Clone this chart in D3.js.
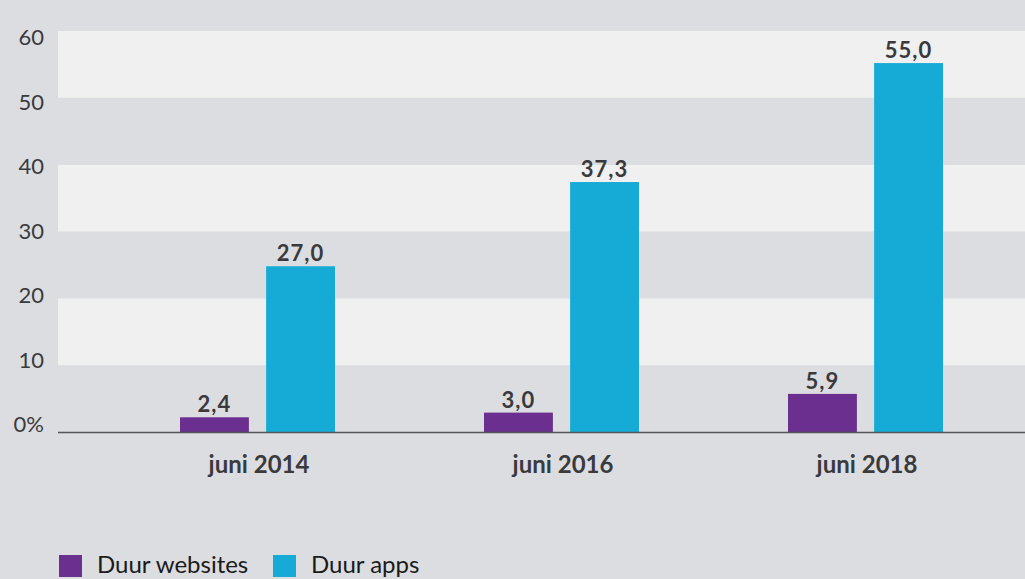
<!DOCTYPE html>
<html>
<head>
<meta charset="utf-8">
<script src="https://cdn.jsdelivr.net/npm/d3@7"></script>
<style>
  html, body { margin: 0; padding: 0; background: #dcdde0; }
  svg { display: block; }
</style>
</head>
<body>
<script>
// ---- data ----
const categories = ["juni 2014", "juni 2016", "juni 2018"];
const seriesNames = ["Duur websites", "Duur apps"];
const websitesLabels = ["2,4", "3,0", "5,9"];
const appsLabels = ["27,0", "37,3", "55,0"];
// bar heights as drawn in the picture
const websitesValues = [2.2, 2.9, 5.7];
const appsValues = [24.8, 37.4, 55.2];
const yTickValues = [0, 10, 20, 30, 40, 50, 60];
const yTickLabels = ["0%", "10", "20", "30", "40", "50", "60"];
const colors = ["#6a2f8f", "#16aad6"];

// ---- layout ----
const W = 1025, H = 579;
const svg = d3.select("body").append("svg").attr("width", W).attr("height", H);
svg.append("rect").attr("width", W).attr("height", H).attr("fill", "#dcdde0");

const plotLeft = 58, plotRight = 1025, plotTop = 31, plotBottom = 432;
const y = d3.scaleLinear().domain([0, 60]).range([plotBottom, plotTop]);
const yLabel = d3.scaleLinear().domain([0, 60]).range([424.5, 37]);
const x0 = d3.scaleBand().domain(categories).range([106, 1018]).paddingInner(0).paddingOuter(0);
const x1 = d3.scaleBand().domain(seriesNames).range([0, 155]).paddingInner(0.2);

// bands
const bandPairs = d3.pairs(yTickValues);
svg.append("g").selectAll("rect").data(bandPairs).join("rect")
  .attr("x", plotLeft).attr("width", plotRight - plotLeft)
  .attr("y", d => y(d[1])).attr("height", d => y(d[0]) - y(d[1]))
  .attr("fill", (d, i) => i % 2 === 1 ? "#f0f0f0" : "#dcdde0");

// y tick labels
svg.append("g").selectAll("text").data(yTickValues).join("text")
  .attr("x", 44).attr("y", d => yLabel(d))
  .attr("dy", "0.36em")
  .attr("text-anchor", "end")
  .attr("font-family", "Lato, 'Open Sans', sans-serif")
  .attr("font-size", 22)
  .attr("fill", "#3a3a3c")
  .text((d, i) => yTickLabels[i]);

// bars
const groups = svg.append("g").selectAll("g").data(categories).join("g")
  .attr("transform", d => `translate(${x0(d) + x0.bandwidth() / 2 - 78},0)`);

const seriesData = (i) => [
  { s: seriesNames[0], v: websitesValues[i], l: websitesLabels[i], c: colors[0] },
  { s: seriesNames[1], v: appsValues[i], l: appsLabels[i], c: colors[1] }
];

groups.each(function (cat, i) {
  const g = d3.select(this);
  const d = seriesData(i);
  g.selectAll("rect").data(d).join("rect")
    .attr("x", e => x1(e.s)).attr("width", x1.bandwidth())
    .attr("y", e => y(e.v)).attr("height", e => y(0) - y(e.v))
    .attr("fill", e => e.c);
  g.selectAll("text").data(d).join("text")
    .attr("x", e => x1(e.s) + x1.bandwidth() / 2)
    .attr("y", e => y(e.v) - 5)
    .attr("text-anchor", "middle")
    .attr("font-family", "Lato, 'Open Sans', sans-serif")
    .attr("font-weight", "bold")
    .attr("font-size", 22)
    .attr("letter-spacing", 1)
    .attr("fill", "#3a3a3c")
    .text(e => e.l);
});

// baseline
svg.append("line")
  .attr("x1", plotLeft).attr("x2", plotRight)
  .attr("y1", y(0) + 0.5).attr("y2", y(0) + 0.5)
  .attr("stroke", "#555558").attr("stroke-width", 1.5);

// x labels
svg.append("g").selectAll("text").data(categories).join("text")
  .attr("x", d => x0(d) + x0.bandwidth() / 2 + 1)
  .attr("y", 473)
  .attr("text-anchor", "middle")
  .attr("font-family", "Lato, 'Open Sans', sans-serif")
  .attr("font-weight", "bold")
  .attr("font-size", 24)
  .attr("fill", "#3a3a3c")
  .text(d => d);

// legend
const legendX = [59, 273];
const legend = svg.append("g").selectAll("g").data(seriesNames).join("g")
  .attr("transform", (d, i) => `translate(${legendX[i]},555)`);
legend.append("rect").attr("width", 23).attr("height", 22).attr("fill", (d, i) => colors[i]);
legend.append("text")
  .attr("x", 38).attr("y", 18)
  .attr("font-family", "Lato, 'Open Sans', sans-serif")
  .attr("font-size", 24)
  .attr("fill", "#1a1a1a")
  .text(d => d);
</script>
</body>
</html>
